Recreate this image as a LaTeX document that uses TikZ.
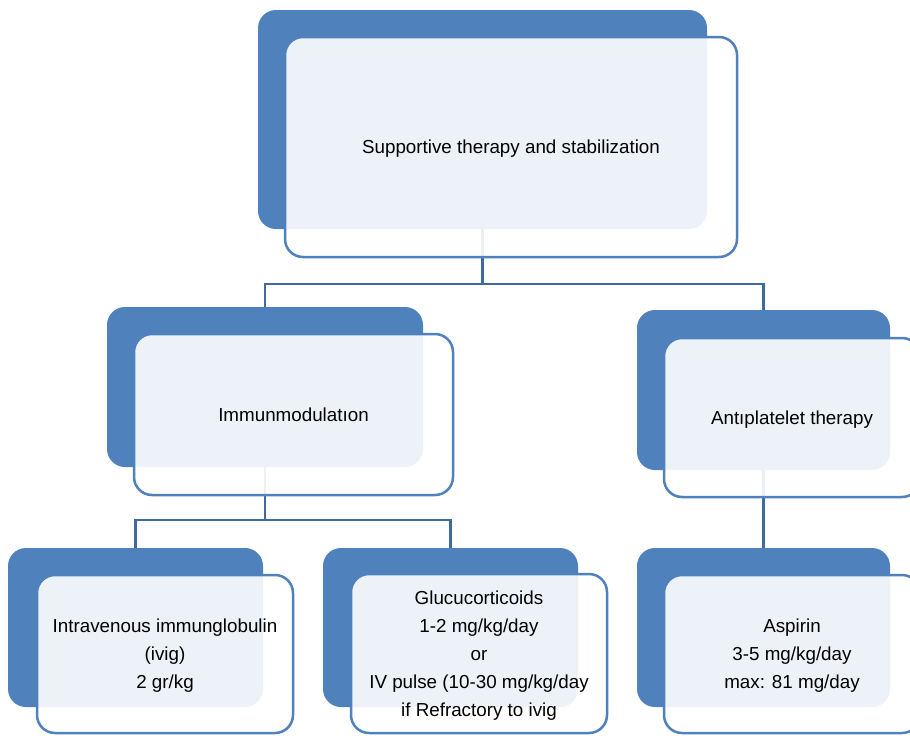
\documentclass[tikz,border=0pt]{standalone}
\usepackage{fontspec}
\setmainfont{Liberation Sans}
\usetikzlibrary{backgrounds}
\definecolor{smBlue}{RGB}{79,129,189}
\definecolor{smEdge}{RGB}{79,129,189}
\definecolor{smLine}{RGB}{62,106,158}

\begin{document}
\begin{tikzpicture}[
  x=1pt, y=-1pt,
  back/.style={rounded corners=18pt, fill=smBlue, draw=none, inner sep=0pt},
  front/.style={rounded corners=18pt, draw=smEdge, line width=2.5pt, fill=white, fill opacity=0.9, text opacity=1, align=center, inner sep=0pt, text depth=0pt, font=\fontsize{18.8}{28}\selectfont},
  link/.style={draw=smLine, line width=2.5pt}
]
\useasboundingbox (0,0) rectangle (910,736);
\clip (0,0) rectangle (910,736);

% back plates
\node[back, minimum width=449pt, minimum height=219pt] (topB) at (482.5,119.5) {};
\node[back, minimum width=316pt, minimum height=160pt] (immB) at (265,387) {};
\node[back, minimum width=253pt, minimum height=160pt] (antB) at (763.5,390) {};
\node[back, minimum width=255pt, minimum height=159pt] (ivigB) at (135.5,627.5) {};
\node[back, minimum width=255pt, minimum height=159pt] (gluB) at (450.5,627.5) {};
\node[back, minimum width=253pt, minimum height=159pt] (aspB) at (763.5,627.5) {};

% front cards
\node[front, minimum width=452pt, minimum height=220pt] (top) at (511,147) {Supportive therapy and stabilization};
\node[front, minimum width=319pt, minimum height=161pt] (imm) at (293.5,414.5) {Immunmodulatıon};
\node[front, minimum width=256pt, minimum height=159pt] (ant) at (792,417.5) {Antıplatelet therapy};
\node[front, minimum width=256pt, minimum height=158pt] (ivig) at (165,654) {Intravenous immunglobulin\\(ivig)\\2 gr/kg};
\node[front, minimum width=256pt, minimum height=159pt] (glu) at (479,653.5) {Glucucorticoids\\1-2 mg/kg/day\\or\\IV pulse (10-30 mg/kg/day\\if Refractory to ivig};
\node[front, minimum width=256pt, minimum height=158pt] (asp) at (792,654) {Aspirin\\3-5 mg/kg/day\\max: 81 mg/day};

\begin{scope}[on background layer]
  \draw[link] (topB.south) -- ++(0,55) -| (immB.north);
  \draw[link] (topB.south) -- ++(0,55) -| (antB.north);
  \draw[link] (immB.south) -- ++(0,53) -| (ivigB.north);
  \draw[link] (immB.south) -- ++(0,53) -| (gluB.north);
  \draw[link] (antB.south) -- (aspB.north);
\end{scope}
\end{tikzpicture}
\end{document}
